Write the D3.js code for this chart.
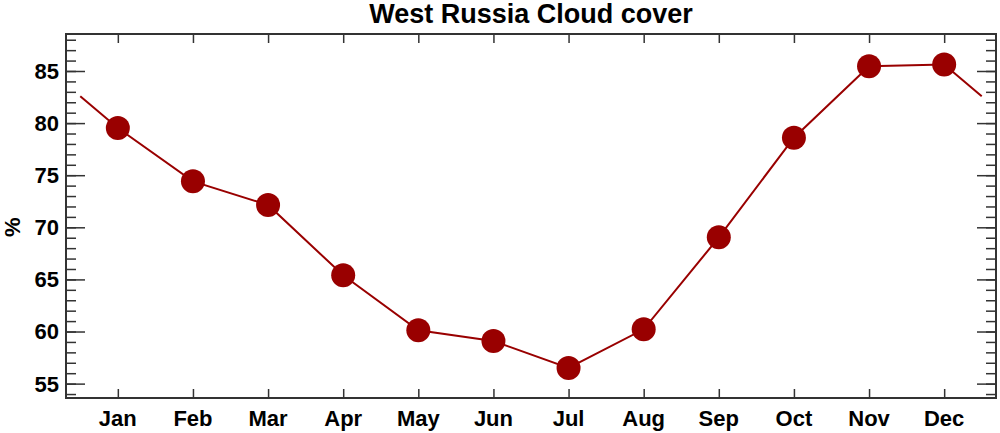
<!DOCTYPE html>
<html>
<head>
<meta charset="utf-8">
<script src="https://cdn.jsdelivr.net/npm/d3@7"></script>
<style>
  body { margin: 0; background: #fff; }
  text { font-family: "Liberation Sans", Arial, sans-serif; font-weight: bold; fill: #000; }
</style>
</head>
<body>
<div id="chart"></div>
<script>
// monthly cloud cover, West Russia
var months = ["Jan", "Feb", "Mar", "Apr", "May", "Jun", "Jul", "Aug", "Sep", "Oct", "Nov", "Dec"];
var cloudCover = [79.53, 74.41, 72.14, 65.39, 60.12, 59.09, 56.5, 60.21, 69.04, 78.6, 85.45, 85.62];
var yTicks = [55, 60, 65, 70, 75, 80, 85];

var width = 1000, height = 433;
var margin = {top: 34, right: 4, bottom: 35, left: 66};
var w = width - margin.left - margin.right;
var h = height - margin.top - margin.bottom;
var red = "#990000", axisColor = "#333";

var svg = d3.select("#chart").append("svg")
  .attr("width", width)
  .attr("height", height);

var x = d3.scaleLinear().domain([0.31, 12.69]).range([0, w]);
var y = d3.scaleLinear().domain([53.62, 88.55]).range([h, 0]);

var g = svg.append("g")
  .attr("transform", "translate(" + margin.left + "," + margin.top + ")");

// wrap line half a month past each end (mean of Dec and Jan)
var wrap = (cloudCover[0] + cloudCover[11]) / 2;
var pts = [{m: 0.5, v: wrap}]
  .concat(cloudCover.map((v, i) => ({m: i + 1, v: v})))
  .concat([{m: 12.5, v: wrap}]);

g.append("path")
  .datum(pts)
  .attr("fill", "none")
  .attr("stroke", red)
  .attr("stroke-width", 2)
  .attr("d", d3.line().x((d) => x(d.m)).y((d) => y(d.v)));

g.selectAll(".dot").data(cloudCover)
  .enter()
  .append("circle")
  .attr("class", "dot")
  .attr("cx", (d, i) => x(i + 1))
  .attr("cy", (d) => y(d))
  .attr("r", 12)
  .attr("fill", red);

// axes: labelled left and bottom, mirrored right and top
var minor = d3.range(54, 89);
var monthIdx = d3.range(1, 13);

function styleAxis(sel) {
  sel.selectAll(".domain").remove();
  sel.selectAll(".tick line").attr("stroke", axisColor).attr("stroke-width", 1.5);
}

var left = g.append("g");
left.append("g").call(d3.axisRight(y).tickValues(minor).tickSize(10).tickFormat("")).call(styleAxis);
left.append("g").call(d3.axisRight(y).tickValues(yTicks).tickSize(19).tickFormat("")).call(styleAxis);
left.selectAll(".ylab").data(yTicks).enter().append("text")
  .attr("x", -7)
  .attr("y", (d) => y(d))
  .attr("dy", "0.36em")
  .attr("text-anchor", "end")
  .style("font-size", "22px")
  .text((d) => d);

var right = g.append("g").attr("transform", "translate(" + w + ",0)");
right.append("g").call(d3.axisLeft(y).tickValues(minor).tickSize(10).tickFormat("")).call(styleAxis);
right.append("g").call(d3.axisLeft(y).tickValues(yTicks).tickSize(19).tickFormat("")).call(styleAxis);

var bottom = g.append("g").attr("transform", "translate(0," + h + ")");
bottom.append("g").call(d3.axisTop(x).tickValues(monthIdx).tickSize(9).tickFormat("")).call(styleAxis);
bottom.selectAll(".xlab").data(months).enter().append("text")
  .attr("x", (d, i) => x(i + 1))
  .attr("y", 28)
  .attr("text-anchor", "middle")
  .style("font-size", "22px")
  .text((d) => d);

g.append("g").call(d3.axisBottom(x).tickValues(monthIdx).tickSize(9).tickFormat("")).call(styleAxis);

g.append("rect")
  .attr("width", w)
  .attr("height", h)
  .attr("fill", "none")
  .attr("stroke", axisColor)
  .attr("stroke-width", 2);

svg.append("text")
  .attr("x", margin.left + w / 2)
  .attr("y", 23)
  .attr("text-anchor", "middle")
  .style("font-size", "27px")
  .text("West Russia Cloud cover");

svg.append("text")
  .attr("transform", "translate(20," + (margin.top + y(70)) + ") rotate(-90)")
  .attr("text-anchor", "middle")
  .style("font-size", "22px")
  .text("%");
</script>
</body>
</html>
